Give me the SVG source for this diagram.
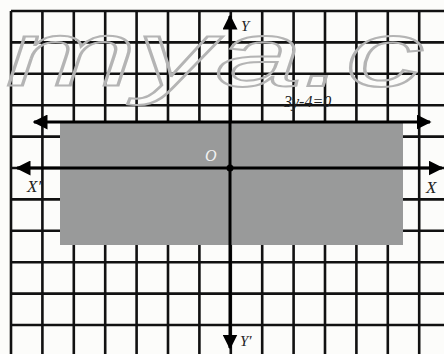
<svg xmlns="http://www.w3.org/2000/svg" width="444" height="354" viewBox="0 0 444 354">
<style>
.g{stroke:#111;stroke-width:2.6;fill:none}
.ax{stroke:#000;stroke-width:3;fill:none}
.lbl{font-family:"Liberation Serif",serif;font-style:italic;fill:#222}
.wm{font-family:"Liberation Sans",sans-serif;font-style:italic;fill:none;stroke:#b4b4b4;stroke-width:2}
</style>
<defs>
<marker id="ah" viewBox="0 0 10 10" refX="9" refY="5" markerWidth="5" markerHeight="5" orient="auto-start-reverse" markerUnits="strokeWidth">
<path d="M0,0 L10,5 L0,10 Z" fill="#000"/>
</marker>
</defs>
<rect width="444" height="354" fill="#fcfcfa"/>
<g id="grid">
<path class="g" d="M11,11V354 M42.4,11V354 M73.8,11V354 M105.2,11V354 M136.6,11V354 M168,11V354 M199.4,11V354 M230.8,11V354 M262.2,11V354 M293.6,11V354 M325,11V354 M356.4,11V354 M387.8,11V354 M419.2,11V354"/>
<path class="g" d="M11,11H444 M11,42.4H444 M11,73.8H444 M11,105.2H444 M11,136.6H444 M11,168H444 M11,199.4H444 M11,230.8H444 M11,262.2H444 M11,293.6H444 M11,325H444"/>
</g>
<g id="region">
<rect x="60" y="123" width="343" height="122" fill="#999a9a"/>
</g>
<g id="connectors">
<line class="ax" x1="34" y1="122" x2="430" y2="122" marker-start="url(#ah)" marker-end="url(#ah)"/>
<line class="ax" x1="17" y1="168" x2="442" y2="168" marker-start="url(#ah)" marker-end="url(#ah)"/>
<line class="ax" x1="230" y1="16" x2="230" y2="348" marker-start="url(#ah)" marker-end="url(#ah)"/>
</g>
<g id="origin">
<circle cx="230" cy="168" r="3.5" fill="#000"/>
<text class="lbl" x="205" y="161" font-size="16" style="fill:#f2f2f2">O</text>
</g>
<g id="labels">
<text class="lbl" x="27" y="192" font-size="17">X′</text>
<text class="lbl" x="426" y="193" font-size="17">X</text>
<text class="lbl" x="241" y="31" font-size="15">Y</text>
<text class="lbl" x="240" y="346" font-size="15">Y′</text>
<text class="lbl" x="284" y="107" font-size="16">3y-4=0</text>
</g>
<g id="watermark">
<text class="wm" x="6" y="86" font-size="92" textLength="418" lengthAdjust="spacingAndGlyphs">mya.c</text>
</g>
</svg>
